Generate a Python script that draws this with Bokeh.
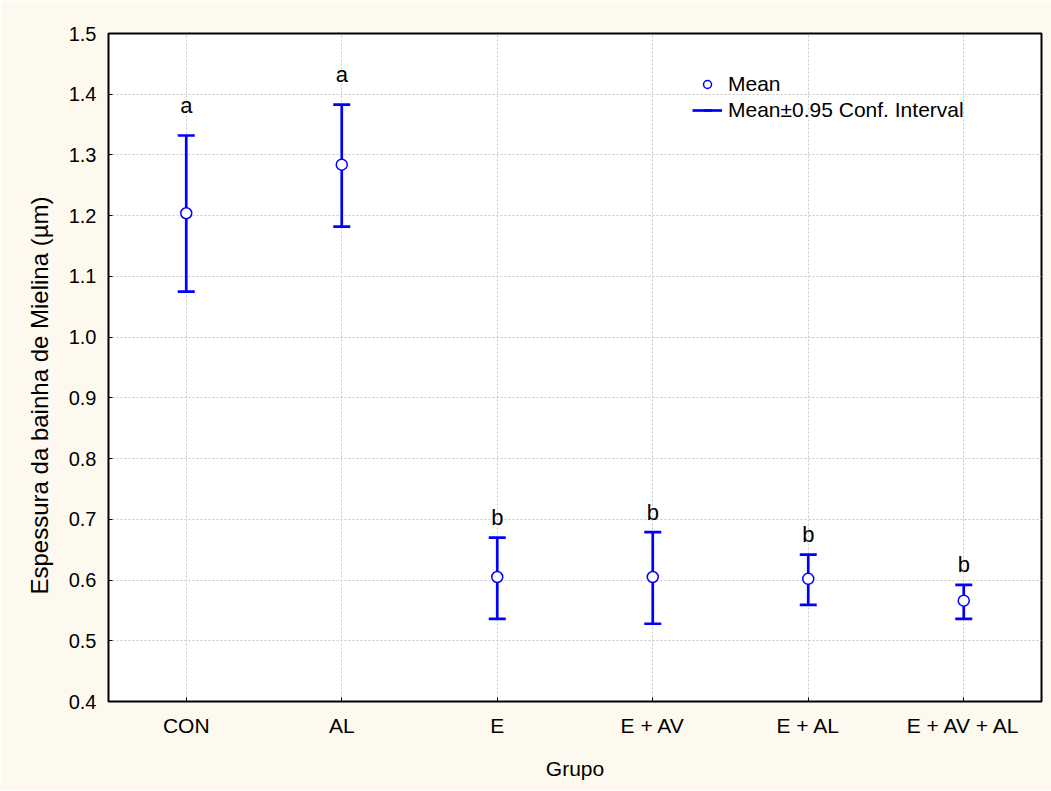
from bokeh.plotting import figure
from bokeh.models import (ColumnDataSource, Legend, LegendItem, NumeralTickFormatter,
                          FixedTicker, Range1d, FactorRange, Title)
from bokeh.core.properties import value
from bokeh.embed import file_html
from bokeh.resources import INLINE

groups = ["CON", "AL", "E", "E + AV", "E + AL", "E + AV + AL"]
means = [1.204, 1.284, 0.605, 0.605, 0.602, 0.566]
upper = [1.332, 1.383, 0.670, 0.679, 0.642, 0.592]
lower = [1.075, 1.182, 0.536, 0.528, 0.559, 0.536]
letters = ["a", "a", "b", "b", "b", "b"]
y_ticks = [0.4, 0.5, 0.6, 0.7, 0.8, 0.9, 1.0, 1.1, 1.2, 1.3, 1.4, 1.5]

FONT = "Liberation Sans"
BLUE = "#0000FF"

# letters without ascenders sit a little higher above the bar
lift = {"a": -30, "b": -20}
src = ColumnDataSource(dict(g=groups, m=means, u=upper, l=lower, t=letters,
                            off=[lift.get(t, -20) for t in letters]))

p = figure(x_range=FactorRange(*groups), y_range=Range1d(0.4, 1.5),
           frame_width=933, frame_height=668,
           min_border_left=108, min_border_right=10, min_border_top=33, min_border_bottom=89,
           output_backend="svg", toolbar_location=None,
           background_fill_color="white", border_fill_color="#FEF9EF")

p.outline_line_color = "black"
p.outline_line_width = 2

for g in (p.xgrid, p.ygrid):
    g.grid_line_color = "#c8c8c8"
    g.grid_line_dash = "2 2"
    g.grid_line_width = 1
p.ygrid.ticker = FixedTicker(ticks=y_ticks)

xa = p.xaxis[0]
ya = p.yaxis[0]
ya.ticker = FixedTicker(ticks=y_ticks)
ya.formatter = NumeralTickFormatter(format="0.0")
for ax in (xa, ya):
    ax.axis_line_color = None
    ax.major_tick_in = 4
    ax.major_tick_out = 0
    ax.minor_tick_in = 0
    ax.minor_tick_out = 0
    ax.major_tick_line_color = "black"
    ax.major_label_text_font = FONT
    ax.major_label_text_color = "black"
xa.major_label_text_font_size = "21px"
ya.major_label_text_font_size = "20px"
xa.axis_label = "Grupo"
xa.axis_label_text_font = FONT
xa.axis_label_text_font_style = "normal"
xa.axis_label_text_color = "black"
xa.axis_label_text_font_size = "21px"
xa.major_label_standoff = 12
xa.axis_label_standoff = 17
ya.major_label_standoff = 12

ytitle = Title(text="Espessura da bainha de Mielina (µm)", align="left", offset=107,
               text_font=FONT, text_font_size="24px", text_font_style="normal",
               text_color="black", standoff=26)
p.add_layout(ytitle, "left")

seg = p.segment(x0="g", y0="l", x1="g", y1="u", source=src, line_color=BLUE, line_width=2.7)
caps_u = p.scatter(x="g", y="u", source=src, marker="dash", size=17, line_color=BLUE, line_width=2.7)
caps_l = p.scatter(x="g", y="l", source=src, marker="dash", size=17, line_color=BLUE, line_width=2.7)
circ = p.scatter(x="g", y="m", source=src, marker="circle", size=11, fill_color="white",
                 line_color=BLUE, line_width=1.5)

p.text(x="g", y="u", text="t", source=src, text_align="center", text_baseline="alphabetic",
       y_offset="off", text_font=value(FONT), text_font_size="22px", text_color="black")

legend = Legend(items=[LegendItem(label="Mean", renderers=[circ]),
                       LegendItem(label="Mean±0.95 Conf. Interval", renderers=[seg, caps_u])],
                location=(584, 579), background_fill_alpha=0, border_line_color=None,
                label_text_font=FONT, label_text_font_size="21px", label_text_color="black",
                glyph_width=30, glyph_height=20, label_height=20, spacing=2, padding=0, margin=0,
                label_standoff=6)
p.add_layout(legend)

open("out.html", "w").write(file_html(p, INLINE))
